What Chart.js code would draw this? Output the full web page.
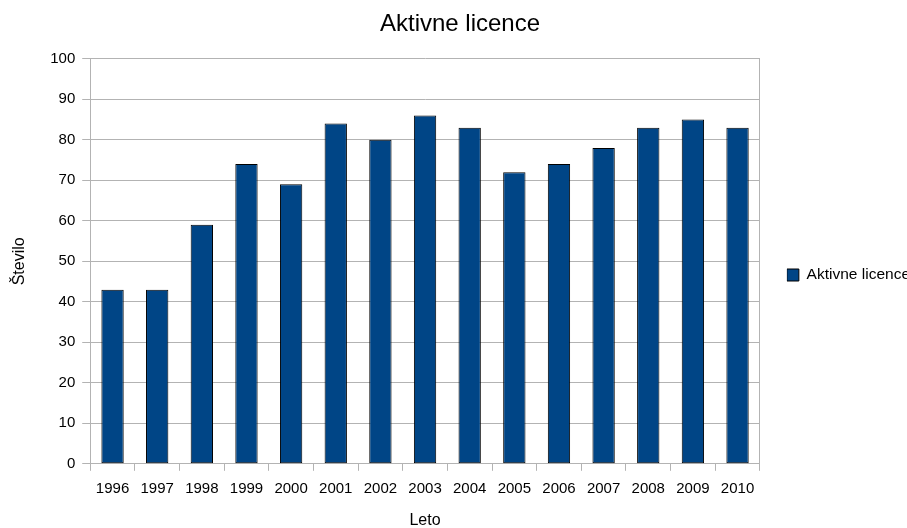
<!DOCTYPE html>
<html>
<head>
<meta charset="utf-8">
<script src="https://cdn.jsdelivr.net/npm/chart.js@4/dist/chart.umd.min.js"></script>
<style>
  html, body { margin: 0; padding: 0; background: #fff; }
  #wrap { width: 907px; height: 528px; }
</style>
</head>
<body>
<div id="wrap"><canvas id="c"></canvas></div>
<script>
const years = ['1996', '1997', '1998', '1999', '2000', '2001', '2002', '2003',
    '2004', '2005', '2006', '2007', '2008', '2009', '2010'];
const licences = [43, 43, 59, 74, 69, 84, 80, 86, 83, 72, 74, 78, 83, 85, 83];
const yTicks = [0, 10, 20, 30, 40, 50, 60, 70, 80, 90, 100];

const FONT = "'Liberation Sans', Arial, sans-serif";
const GRID = '#b3b3b3';

const ctx = document.getElementById('c').getContext('2d');
new Chart(ctx, {
    type: 'bar',
    data: {
        labels: years,
        datasets: [{
            label: 'Aktivne licence',
            data: licences,
            backgroundColor: '#004586',
            borderColor: '#000000',
            borderWidth: 1,
            borderSkipped: false,
            categoryPercentage: 1,
            barPercentage: 0.5
        }]
    },
    options: {
        responsive: true,
        maintainAspectRatio: false,
        animation: false,
        layout: { padding: { left: 0, right: -13, top: 0, bottom: -2 } },
        plugins: {
            title: {
                display: true,
                text: 'Aktivne licence',
                color: '#000',
                font: { family: FONT, size: 24, weight: 'normal' },
                padding: { top: 10, bottom: 20 }
            },
            legend: {
                position: 'right',
                title: { display: true, text: ' ', font: { size: 10 }, padding: 4 },
                labels: {
                    color: '#000',
                    boxWidth: 12,
                    boxHeight: 12,
                    padding: 0,
                    font: { family: FONT, size: 15.5 }
                }
            },
            tooltip: { enabled: false }
        },
        scales: {
            x: {
                grid: {
                    offset: true,
                    drawOnChartArea: false,
                    color: GRID,
                    tickLength: 7
                },
                border: { color: GRID },
                ticks: { color: '#000', font: { family: FONT, size: 15 }, padding: 9, maxRotation: 0 },
                title: {
                    display: true,
                    text: 'Leto',
                    color: '#000',
                    font: { family: FONT, size: 16 },
                    padding: { top: 4, bottom: 0 }
                }
            },
            y: {
                min: 0,
                max: 100,
                afterBuildTicks: axis => { axis.ticks = yTicks.map(v => ({ value: v })); },
                grid: { color: GRID, tickColor: GRID, tickLength: 8 },
                border: { color: GRID },
                ticks: { color: '#000', font: { family: FONT, size: 15 }, padding: 7 },
                title: {
                    display: true,
                    text: 'Število',
                    color: '#000',
                    font: { family: FONT, size: 16 },
                    padding: { top: 10, bottom: 14 }
                }
            },
            // right frame line plus the gap before the legend
            yRight: {
                position: 'right',
                min: 0,
                max: 100,
                ticks: { display: false },
                grid: { drawOnChartArea: false, drawTicks: false },
                border: { color: GRID },
                afterFit: axis => { axis.width = 27; }
            }
        }
    }
});
</script>
</body>
</html>
